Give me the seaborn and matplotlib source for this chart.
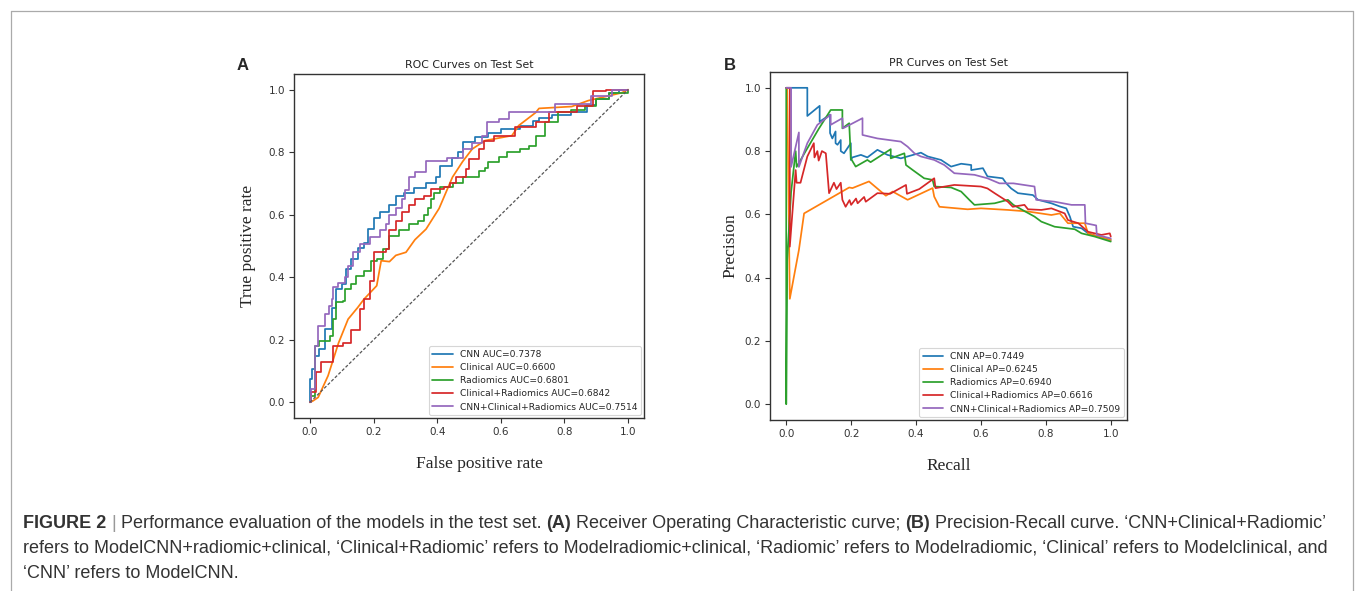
import matplotlib
matplotlib.use("Agg")
import matplotlib.pyplot as plt
import seaborn as sns
from matplotlib import font_manager
from matplotlib.lines import Line2D

# ---- ROC data (panel A) ----
roc_fpr_cnn = [0, 0, 0.008, 0.015, 0.03, 0.047, 0.068, 0.083, 0.10, 0.115,
               0.13, 0.151, 0.17, 0.182, 0.20, 0.22, 0.25, 0.27, 0.297, 0.328,
               0.365, 0.395, 0.41, 0.448, 0.464, 0.48, 0.52, 0.56, 0.60, 0.66,
               0.70, 0.72, 0.76, 0.82, 0.87, 0.90, 0.94, 0.97, 1.0]
roc_tpr_cnn = [0, 0.075, 0.106, 0.149, 0.17, 0.234, 0.303, 0.362, 0.38, 0.426,
               0.458, 0.495, 0.51, 0.554, 0.59, 0.61, 0.63, 0.66, 0.67, 0.687,
               0.70, 0.72, 0.757, 0.78, 0.80, 0.834, 0.85, 0.86, 0.875, 0.885,
               0.90, 0.91, 0.92, 0.93, 0.95, 0.97, 0.99, 1.0, 1.0]

roc_fpr_clin = [0, 0.01, 0.026, 0.057, 0.09, 0.12, 0.15, 0.17, 0.21, 0.224,
                0.25, 0.27, 0.302, 0.33, 0.365, 0.406, 0.448, 0.48, 0.51, 0.55,
                0.635, 0.656, 0.71, 0.72, 0.823, 0.875, 0.98, 1.0]
roc_tpr_clin = [0, 0.005, 0.016, 0.085, 0.19, 0.266, 0.303, 0.33, 0.373, 0.453,
                0.45, 0.47, 0.48, 0.52, 0.554, 0.62, 0.72, 0.77, 0.81, 0.837,
                0.853, 0.885, 0.927, 0.94, 0.946, 0.965, 0.99, 1.0]

roc_fpr_rad = [0, 0.005, 0.016, 0.03, 0.0625, 0.073, 0.083, 0.104, 0.11, 0.13,
               0.146, 0.17, 0.193, 0.21, 0.23, 0.25, 0.28, 0.31, 0.34, 0.36,
               0.37, 0.38, 0.39, 0.41, 0.45, 0.48, 0.53, 0.55, 0.56, 0.594,
               0.62, 0.66, 0.69, 0.71, 0.74, 0.78, 0.82, 0.865, 0.90, 0.94, 1.0]
roc_tpr_rad = [0, 0.02, 0.181, 0.197, 0.213, 0.266, 0.32, 0.325, 0.362, 0.38,
               0.405, 0.42, 0.453, 0.46, 0.49, 0.533, 0.55, 0.57, 0.58, 0.60,
               0.62, 0.65, 0.67, 0.69, 0.70, 0.72, 0.74, 0.75, 0.77, 0.783,
               0.80, 0.81, 0.82, 0.853, 0.895, 0.927, 0.935, 0.949, 0.97, 0.99, 1.0]

roc_fpr_clinrad = [0, 0.005, 0.02, 0.036, 0.0625, 0.073, 0.104, 0.13, 0.156, 0.17,
                   0.19, 0.203, 0.24, 0.25, 0.27, 0.29, 0.31, 0.33, 0.36, 0.38,
                   0.42, 0.44, 0.458, 0.49, 0.50, 0.53, 0.547, 0.58, 0.645, 0.71,
                   0.75, 0.84, 0.89, 0.93, 1.0]
roc_tpr_clinrad = [0, 0.032, 0.096, 0.128, 0.13, 0.18, 0.19, 0.23, 0.30, 0.33,
                   0.389, 0.48, 0.49, 0.55, 0.58, 0.61, 0.63, 0.65, 0.66, 0.682,
                   0.69, 0.70, 0.72, 0.746, 0.778, 0.81, 0.837, 0.853, 0.88, 0.895,
                   0.927, 0.949, 0.995, 1.0, 1.0]

roc_fpr_all = [0, 0.003, 0.016, 0.025, 0.047, 0.06, 0.068, 0.073, 0.089, 0.11,
               0.12, 0.135, 0.156, 0.19, 0.22, 0.24, 0.25, 0.27, 0.29, 0.30,
               0.31, 0.33, 0.365, 0.43, 0.48, 0.51, 0.541, 0.557, 0.594, 0.625,
               0.77, 0.885, 0.95, 1.0]
roc_tpr_all = [0, 0.043, 0.181, 0.245, 0.282, 0.308, 0.33, 0.368, 0.383, 0.40,
               0.437, 0.48, 0.506, 0.528, 0.55, 0.57, 0.60, 0.62, 0.65, 0.68,
               0.72, 0.737, 0.773, 0.78, 0.81, 0.83, 0.853, 0.895, 0.906, 0.927,
               0.954, 0.98, 1.0, 1.0]

# ---- PR data (panel B) ----
pr_rec_cnn = [0, 0.065, 0.065, 0.103, 0.103, 0.135, 0.135, 0.142, 0.152, 0.152,
              0.158, 0.168, 0.168, 0.178, 0.199, 0.199, 0.204, 0.23, 0.25, 0.281,
              0.312, 0.353, 0.415, 0.436, 0.477, 0.508, 0.539, 0.57, 0.57, 0.606,
              0.62, 0.667, 0.678, 0.693, 0.714, 0.76, 0.776, 0.817, 0.843, 0.863,
              0.874, 0.884, 0.91, 0.93, 0.96, 1.0]
pr_prec_cnn = [1.0, 1.0, 0.911, 0.943, 0.893, 0.915, 0.857, 0.84, 0.862, 0.825,
               0.82, 0.835, 0.80, 0.793, 0.825, 0.772, 0.78, 0.788, 0.78, 0.804,
               0.788, 0.777, 0.795, 0.783, 0.772, 0.751, 0.76, 0.756, 0.74, 0.746,
               0.72, 0.714, 0.698, 0.682, 0.667, 0.661, 0.646, 0.635, 0.625, 0.619,
               0.593, 0.561, 0.556, 0.54, 0.53, 0.519]

pr_rec_clin = [0.003, 0.011, 0.039, 0.055, 0.194, 0.204, 0.255, 0.307, 0.328, 0.374,
               0.451, 0.456, 0.472, 0.559, 0.6, 0.683, 0.745, 0.817, 0.843, 0.868,
               0.92, 0.93, 0.96, 1.0]
pr_prec_clin = [1.0, 0.333, 0.487, 0.603, 0.685, 0.683, 0.704, 0.659, 0.672, 0.646,
                0.683, 0.656, 0.624, 0.616, 0.619, 0.614, 0.609, 0.598, 0.603, 0.572,
                0.572, 0.54, 0.53, 0.519]

pr_rec_rad = [0, 0, 0.003, 0.015, 0.029, 0.032, 0.06, 0.10, 0.137, 0.173,
              0.173, 0.194, 0.199, 0.214, 0.25, 0.26, 0.322, 0.322, 0.364, 0.369,
              0.39, 0.425, 0.451, 0.456, 0.508, 0.539, 0.564, 0.58, 0.642, 0.683,
              0.70, 0.724, 0.765, 0.786, 0.827, 0.889, 0.91, 0.95, 1.0]
pr_prec_rad = [1.0, 0.0, 0.456, 0.67, 0.80, 0.75, 0.80, 0.87, 0.93, 0.93,
               0.872, 0.888, 0.777, 0.751, 0.772, 0.765, 0.806, 0.777, 0.793, 0.756,
               0.74, 0.714, 0.709, 0.688, 0.685, 0.672, 0.646, 0.63, 0.635, 0.646,
               0.63, 0.616, 0.593, 0.577, 0.561, 0.553, 0.54, 0.53, 0.514]

pr_rec_clinrad = [0, 0.011, 0.011, 0.024, 0.029, 0.032, 0.044, 0.065, 0.085, 0.087,
                  0.096, 0.10, 0.11, 0.122, 0.127, 0.132, 0.147, 0.155, 0.168, 0.173,
                  0.183, 0.195, 0.2, 0.215, 0.22, 0.24, 0.245, 0.281, 0.32, 0.369,
                  0.372, 0.41, 0.456, 0.46, 0.518, 0.6, 0.62, 0.642, 0.683, 0.698,
                  0.734, 0.745, 0.786, 0.817, 0.858, 0.868, 0.90, 0.93, 0.971, 0.997, 1.0]
pr_prec_clinrad = [1.0, 1.0, 0.498, 0.672, 0.74, 0.70, 0.70, 0.783, 0.825, 0.78,
                   0.80, 0.77, 0.80, 0.793, 0.73, 0.667, 0.70, 0.68, 0.70, 0.646,
                   0.624, 0.645, 0.63, 0.65, 0.635, 0.655, 0.64, 0.667, 0.665, 0.693,
                   0.665, 0.68, 0.714, 0.683, 0.693, 0.688, 0.682, 0.667, 0.64, 0.624,
                   0.63, 0.616, 0.614, 0.619, 0.603, 0.582, 0.572, 0.545, 0.535, 0.54, 0.53]

pr_rec_all = [0, 0.015, 0.015, 0.039, 0.039, 0.065, 0.096, 0.137, 0.137, 0.173,
              0.175, 0.235, 0.235, 0.281, 0.353, 0.374, 0.395, 0.415, 0.456, 0.487,
              0.518, 0.58, 0.62, 0.657, 0.70, 0.765, 0.77, 0.827, 0.879, 0.92,
              0.922, 0.955, 0.957, 1.0]
pr_prec_all = [1.0, 1.0, 0.75, 0.859, 0.75, 0.825, 0.883, 0.915, 0.883, 0.904,
               0.872, 0.904, 0.851, 0.84, 0.83, 0.814, 0.793, 0.783, 0.772, 0.756,
               0.73, 0.725, 0.714, 0.698, 0.698, 0.688, 0.646, 0.64, 0.63, 0.63,
               0.572, 0.565, 0.535, 0.524]

roc_labels = ["CNN AUC=0.7378", "Clinical AUC=0.6600", "Radiomics AUC=0.6801",
              "Clinical+Radiomics AUC=0.6842", "CNN+Clinical+Radiomics AUC=0.7514"]
pr_labels = ["CNN AP=0.7449", "Clinical AP=0.6245", "Radiomics AP=0.6940",
             "Clinical+Radiomics AP=0.6616", "CNN+Clinical+Radiomics AP=0.7509"]
ticks = [0.0, 0.2, 0.4, 0.6, 0.8, 1.0]

sns.set_style("ticks")
plt.rcParams["font.family"] = ["DejaVu Sans"]
plt.rcParams["axes.edgecolor"] = "#333333"
plt.rcParams["axes.linewidth"] = 1.0
plt.rcParams["xtick.color"] = "#333333"
plt.rcParams["ytick.color"] = "#333333"

W, H = 1357, 591
fig = plt.figure(figsize=(W / 100, H / 100), dpi=100)
axA = fig.add_axes([294 / W, 1 - 418 / H, 350 / W, 344 / H])
axB = fig.add_axes([770 / W, 1 - 420 / H, 357 / W, 348 / H])

colors = sns.color_palette("tab10")[:5]
serif = ["Liberation Serif", "DejaVu Serif"]
sans = ["Liberation Sans", "DejaVu Sans"]

# panel A: ROC
roc = [(roc_fpr_cnn, roc_tpr_cnn, "steps-post"),
       (roc_fpr_clin, roc_tpr_clin, "default"),
       (roc_fpr_rad, roc_tpr_rad, "steps-post"),
       (roc_fpr_clinrad, roc_tpr_clinrad, "steps-post"),
       (roc_fpr_all, roc_tpr_all, "steps-post")]
for (fx, ty, ds), lab, c in zip(roc, roc_labels, colors):
    sns.lineplot(x=fx, y=ty, ax=axA, color=c, label=lab, sort=False,
                 estimator=None, drawstyle=ds, linewidth=1.25)
sns.lineplot(x=[0, 1], y=[0, 1], ax=axA, color="#555555", sort=False,
             estimator=None, linestyle=(0, (2.5, 1.5)), linewidth=0.9)

# panel B: PR
pr = [(pr_rec_cnn, pr_prec_cnn), (pr_rec_clin, pr_prec_clin),
      (pr_rec_rad, pr_prec_rad), (pr_rec_clinrad, pr_prec_clinrad),
      (pr_rec_all, pr_prec_all)]
for (rx, py), lab, c in zip(pr, pr_labels, colors):
    sns.lineplot(x=rx, y=py, ax=axB, color=c, label=lab, sort=False,
                 estimator=None, linewidth=1.25)

for ax, title in [(axA, "ROC Curves on Test Set"), (axB, "PR Curves on Test Set")]:
    ax.set_xlim(-0.05, 1.05)
    ax.set_ylim(-0.05, 1.05)
    ax.set_xticks(ticks)
    ax.set_yticks(ticks)
    ax.set_xticklabels([f"{t:.1f}" for t in ticks])
    ax.set_yticklabels([f"{t:.1f}" for t in ticks])
    ax.tick_params(labelsize=7.5, length=3.5, width=0.8, pad=3)
    ax.set_title(title, fontsize=7.8, pad=4, color="#222222")
    leg = ax.legend(loc="lower right", fontsize=6.6, frameon=True, fancybox=True,
                    borderaxespad=0.3, labelspacing=0.45, handlelength=2.2,
                    edgecolor="#cccccc")
    leg.get_frame().set_linewidth(0.8)

axA.set_xlabel("False positive rate", fontsize=12.5, family=serif, labelpad=14)
axA.set_ylabel("True positive rate", fontsize=12.5, family=serif, labelpad=9)
axA.xaxis.label.set_x(0.53)
axB.set_xlabel("Recall", fontsize=12.5, family=serif, labelpad=14)
axB.set_ylabel("Precision", fontsize=12.5, family=serif, labelpad=4)

fig.text(243 / W, 1 - 65 / H, "A", fontsize=12, weight="bold", family=sans,
         ha="center", va="center")
fig.text(730 / W, 1 - 65 / H, "B", fontsize=12, weight="bold", family=sans,
         ha="center", va="center")

# outer border (top, left, right)
bc = "#aaaaaa"
fig.add_artist(Line2D([10.5 / W, 10.5 / W], [0, 1 - 10.5 / H], transform=fig.transFigure, color=bc, lw=0.9))
fig.add_artist(Line2D([10.5 / W, 1352.5 / W], [1 - 10.5 / H, 1 - 10.5 / H], transform=fig.transFigure, color=bc, lw=0.9))
fig.add_artist(Line2D([1352.5 / W, 1352.5 / W], [0, 1 - 10.5 / H], transform=fig.transFigure, color=bc, lw=0.9))

# caption
names = {f.name for f in font_manager.fontManager.ttflist}
cap_family = "Liberation Sans Narrow" if "Liberation Sans Narrow" in names else "Liberation Sans"
txt = "#333333"
cap_lines = [
    [("FIGURE 2", "bold", txt), ("|", "normal", "#999999"),
     ("Performance evaluation of the models in the test set.", "normal", txt),
     ("(A)", "bold", txt), ("Receiver Operating Characteristic curve;", "normal", txt),
     ("(B)", "bold", txt), ("Precision-Recall curve. \u2018CNN+Clinical+Radiomic\u2019", "normal", txt)],
    [("refers to ModelCNN+radiomic+clinical, \u2018Clinical+Radiomic\u2019 refers to Modelradiomic+clinical, "
      "\u2018Radiomic\u2019 refers to Modelradiomic, \u2018Clinical\u2019 refers to Modelclinical, and", "normal", txt)],
    [("\u2018CNN\u2019 refers to ModelCNN.", "normal", txt)],
]
renderer = fig.canvas.get_renderer()


def run_width(s, weight, size):
    t = fig.text(0, 0, s, fontsize=size, weight=weight, family=cap_family)
    w = t.get_window_extent(renderer).width
    t.remove()
    return w


def line_width(runs, size):
    sp = run_width("a a", "normal", size) - run_width("aa", "normal", size)
    return sum(run_width(s, w, size) for s, w, _ in runs) + sp * (len(runs) - 1), sp


w10, _ = line_width(cap_lines[0], 10)
cap_size = 10 * (1331 - 23) / w10
for runs, ypx in zip(cap_lines, [523, 548, 573]):
    _, sp = line_width(runs, cap_size)
    x = 23.0
    for s, wt, c in runs:
        fig.text(x / W, 1 - ypx / H, s, fontsize=cap_size, weight=wt, color=c,
                 family=cap_family, ha="left", va="center")
        x += run_width(s, wt, cap_size) + sp

fig.savefig("out.png", dpi=100)
